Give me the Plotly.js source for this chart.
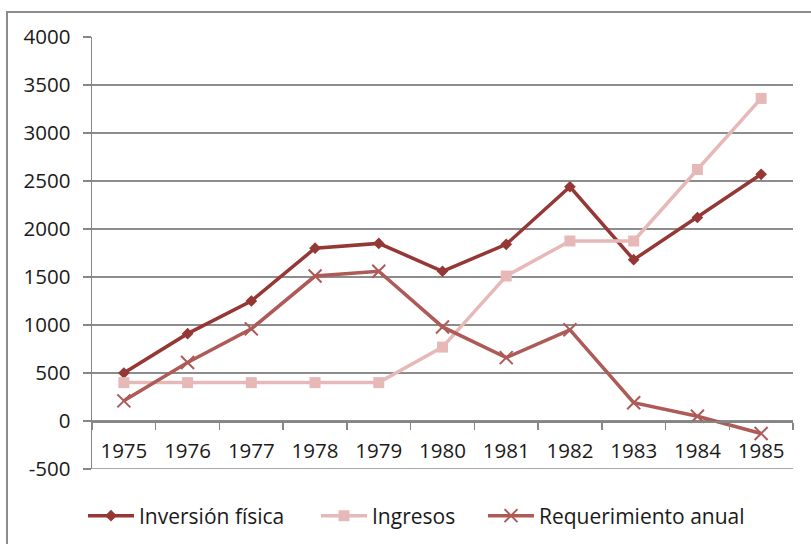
<!DOCTYPE html>
<html>
<head>
<meta charset="utf-8">
<script src="https://cdn.plot.ly/plotly-3.0.1.min.js"></script>
<style>
  html, body { margin: 0; padding: 0; background: #fff; }
  #wrap { position: relative; width: 811px; height: 544px; }
  #chart { position: absolute; left: 0; top: 0; width: 811px; height: 544px; }
  #frame { position: absolute; left: 6px; top: 11px; width: 820px; height: 560px;
           border-left: 2px solid #8c8c8c; border-top: 2px solid #8c8c8c; pointer-events: none; }
</style>
</head>
<body>
<div id="wrap">
  <div id="chart"></div>
  <div id="frame"></div>
</div>
<script>
const years = ['1975','1976','1977','1978','1979','1980','1981','1982','1983','1984','1985'];
const inversionFisica = [500, 910, 1250, 1800, 1850, 1560, 1840, 2440, 1680, 2120, 2570];
const ingresos = [400, 400, 400, 400, 400, 770, 1510, 1875, 1875, 2620, 3360];
const requerimientoAnual = [210, 610, 960, 1510, 1560, 980, 660, 950, 190, 50, -130];
const yTicks = [-500, 0, 500, 1000, 1500, 2000, 2500, 3000, 3500, 4000];

const font = "'Open Sans', 'Noto Sans', sans-serif";
const txt = '#1a1a1a';

const traces = [
  {
    x: years, y: inversionFisica, name: 'Inversión física', type: 'scatter', mode: 'lines+markers',
    line: { color: '#953735', width: 3.5 },
    marker: { symbol: 'diamond', size: 9, color: '#953735' },
    legend: 'legend'
  },
  {
    x: years, y: ingresos, name: 'Ingresos', type: 'scatter', mode: 'lines+markers',
    line: { color: '#E6B9B8', width: 3.5 },
    marker: { symbol: 'square', size: 11, color: '#E6B9B8' },
    legend: 'legend2'
  },
  {
    x: years, y: requerimientoAnual, name: 'Requerimiento anual', type: 'scatter', mode: 'lines+markers',
    line: { color: '#AE5A57', width: 3.5 },
    marker: { symbol: 'x-thin-open', size: 13, color: '#AE5A57', line: { color: '#AE5A57', width: 2 } },
    legend: 'legend3'
  }
];

function leg(px) {
  return {
    orientation: 'h', xref: 'container', yref: 'container',
    x: px / 811, xanchor: 'left', y: 1 - 516 / 544, yanchor: 'middle',
    font: { family: font, size: 21, color: txt }, itemwidth: 46, bgcolor: 'rgba(0,0,0,0)'
  };
}

const layout = {
  width: 811, height: 544,
  margin: { l: 92, r: 18, t: 37, b: 75 },
  paper_bgcolor: '#fff', plot_bgcolor: '#fff',
  font: { family: font, size: 20, color: txt },
  showlegend: true,
  legend: leg(83),
  legend2: leg(316),
  legend3: leg(483),
  xaxis: {
    type: 'category', range: [-0.5, 10.5],
    anchor: 'free', position: 500 / 4500,
    showline: true, linecolor: '#868686', linewidth: 1.5,
    ticks: 'outside', ticklen: 7, tickcolor: '#868686', tickwidth: 1.5,
    tickson: 'boundaries', showgrid: false, zeroline: false,
    ticklabelstandoff: 11,
    tickfont: { family: font, size: 20.5, color: txt },
    fixedrange: true
  },
  yaxis: {
    range: [-500, 4000], tickvals: yTicks, ticktext: yTicks.map(String),
    showline: true, linecolor: '#868686', linewidth: 1.5,
    ticks: 'outside', ticklen: 8, tickcolor: '#868686', tickwidth: 1.5,
    showgrid: true, gridcolor: '#8c8c8c', gridwidth: 1.2,
    zeroline: false, ticklabelstandoff: 8,
    tickfont: { family: font, size: 20.5, color: txt },
    fixedrange: true
  },
  shapes: [
    { type: 'line', xref: 'paper', x0: 0, x1: 1, yref: 'y', y0: -500, y1: -500,
      line: { color: '#8c8c8c', width: 1.5 }, layer: 'below' }
  ]
};

Plotly.newPlot('chart', traces, layout, { displayModeBar: false, staticPlot: true });
</script>
</body>
</html>
